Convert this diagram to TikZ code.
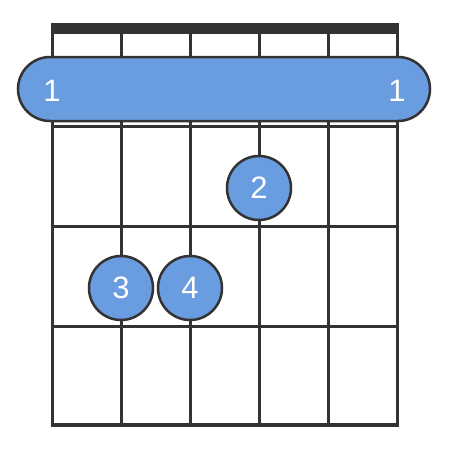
\documentclass[tikz,border=0pt]{standalone}
\usepackage{fontspec}
\setmainfont{Liberation Sans}
\definecolor{finger}{HTML}{6A9CE0}
\definecolor{ink}{HTML}{333333}
\begin{document}
\begin{tikzpicture}[x=1pt,y=-1pt,
  stringline/.style={ink,line width=3pt},
  fretline/.style={ink,line width=3pt},
  dot/.style={circle,fill=finger,draw=ink,line width=2.5pt,minimum size=64pt,inner sep=0pt,text=white,font=\fontsize{31}{31}\selectfont},
  barlabel/.style={text=white,font=\fontsize{31}{31}\selectfont}]
\useasboundingbox (0,0) rectangle (450,472);
% strings
\foreach \i in {0,...,5} {
  \draw[stringline] (52+69*\i,30) -- (52+69*\i,426);
}
% frets
\foreach \y in {126,226,326} {
  \draw[fretline] (50.5,\y) -- (398.5,\y);
}
\draw[ink,line width=4pt] (50.5,425) -- (398.5,425);
% nut
\fill[ink] (50.5,23) rectangle (398.5,34);
% barre
\draw[fill=finger,draw=ink,line width=2.5pt,rounded corners=32pt] (18,57) rectangle (430,121);
\node[barlabel] (b1) at (52,91) {1};
\node[barlabel] (b2) at (397,91) {1};
% fingers
\node[dot] (f2) at (259,188) {2};
\node[dot] (f3) at (121,288) {3};
\node[dot] (f4) at (190,288) {4};
\end{tikzpicture}
\end{document}
